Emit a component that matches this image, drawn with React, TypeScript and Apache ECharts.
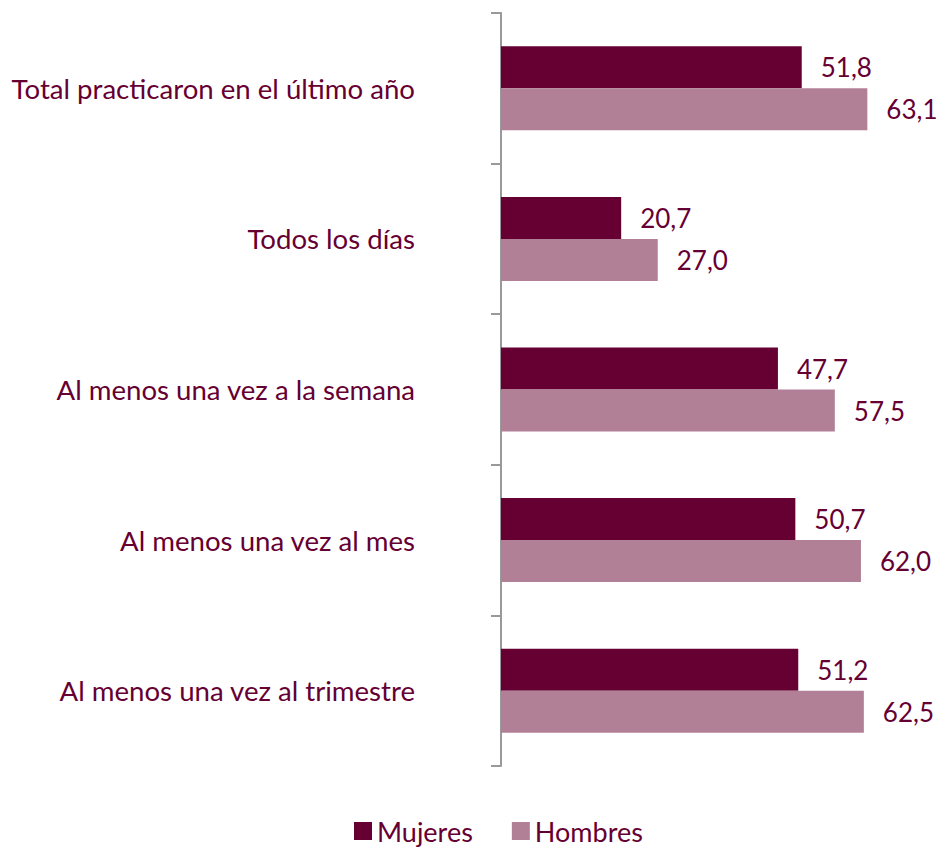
import React, { useEffect, useRef } from "react";
import * as echarts from "echarts";

const categories = [
  "Total practicaron en el último año",
  "Todos los días",
  "Al menos una vez a la semana",
  "Al menos una vez al mes",
  "Al menos una vez al trimestre",
];
const mujeres = [51.8, 20.7, 47.7, 50.7, 51.2];
const hombres = [63.1, 27.0, 57.5, 62.0, 62.5];
const seriesNames = ["Mujeres", "Hombres"];

const FONT = "Lato";
const TEXT_COLOR = "#660033";

export default function App() {
  const ref = useRef<HTMLDivElement>(null);
  useEffect(() => {
    document.body.style.margin = "0";
    if (!ref.current) return;
    const chart = echarts.init(ref.current, null, { renderer: "svg" });
    const label = {
      show: true,
      position: "right",
      distance: 19,
      color: TEXT_COLOR,
      fontFamily: FONT,
      fontSize: 26,
      formatter: (p: any) => p.value.toFixed(1).replace(".", ","),
    };
    chart.setOption({
      animation: false,
      textStyle: { fontFamily: FONT },
      grid: { left: 501, right: 28.6, top: 13, bottom: 82, containLabel: false },
      legend: {
        top: 815,
        left: 354,
        padding: 0,
        itemWidth: 18,
        itemHeight: 18,
        itemGap: 39,
        itemTextGap: 6,
        icon: "rect",
        textStyle: { color: TEXT_COLOR, fontFamily: FONT, fontSize: 27, lineHeight: 32 },
        data: seriesNames,
      },
      xAxis: {
        type: "value",
        min: 0,
        max: 70,
        show: false,
        splitLine: { show: false },
      },
      yAxis: {
        type: "category",
        data: categories,
        inverse: true,
        axisLine: { show: true, lineStyle: { color: "#999999", width: 2 } },
        axisTick: { show: true, length: 10, lineStyle: { color: "#999999", width: 2 } },
        axisLabel: {
          color: TEXT_COLOR,
          fontFamily: FONT,
          fontSize: 27.6,
          margin: 86,
        },
      },
      series: [
        {
          name: seriesNames[0],
          type: "bar",
          data: mujeres,
          barWidth: 42,
          barGap: "0%",
          itemStyle: { color: "#660033" },
          label,
        },
        {
          name: seriesNames[1],
          type: "bar",
          data: hombres,
          barWidth: 42,
          barGap: "0%",
          itemStyle: { color: "#b18097" },
          label,
        },
      ],
    });
    return () => chart.dispose();
  }, []);
  return <div ref={ref} style={{ width: 936, height: 848 }} />;
}
